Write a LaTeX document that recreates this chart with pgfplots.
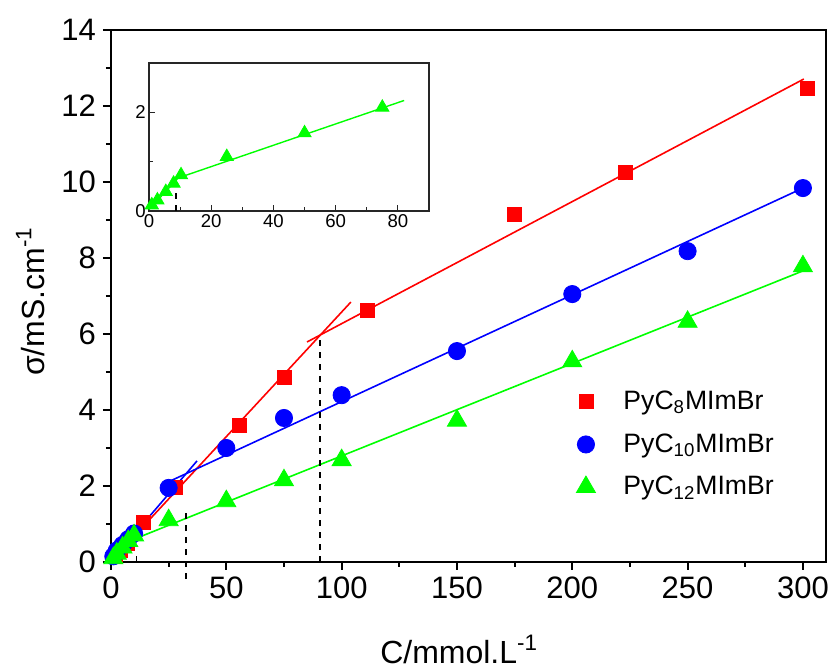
\documentclass[border=0pt]{standalone}
\usepackage{fontspec}
\setmainfont{Liberation Sans}
\usepackage{pgfplots}
\pgfplotsset{compat=1.18}
\definecolor{pgreen}{rgb}{0,1,0}
\begin{document}
\begin{tikzpicture}[x=1pt,y=1pt]
\path[use as bounding box] (0,0) rectangle (416,334);
\begin{axis}[
 name=main, at={(55.5pt,53pt)}, anchor=south west,
 scale only axis, width=357.5pt, height=266pt,
 xmin=0, xmax=310, ymin=0, ymax=14,
 xtick={0,50,...,300}, ytick={0,2,...,14},
 minor x tick num=1, minor y tick num=1,
 tick align=outside, xtick pos=bottom, ytick pos=left,
 major tick length=4pt, minor tick length=2.5pt,
 axis line style={line width=1pt},
 every tick/.append style={line width=1pt, black},
 ticklabel style={font=\fontsize{15.5}{18}\selectfont},
 /pgf/number format/assume math mode=true,
 xlabel={C/mmol.L\textsuperscript{-1}},
 ylabel={σ/mS.cm\textsuperscript{-1}},
 label style={font=\fontsize{16}{19}\selectfont},
 xlabel style={at={(axis description cs:0.487,-0.19)}, anchor=base},
 ylabel style={at={(axis description cs:-0.113,0.49)}, anchor=center},
 clip=false,
 legend style={draw=none, fill=none, at={(0.642,0.337)}, anchor=north west,
   font=\fontsize{13.3}{16}\selectfont, row sep=6.5pt},
 legend cell align=left,
]
% data
\addplot[only marks, mark=square*, color=red, mark size=3.5pt] coordinates {
 (2,0.15)(4,0.3)(7,0.5)(14,1.03)(28,1.95)(55.5,3.6)(75,4.87)(111,6.62)(175,9.15)(223,10.25)(302,12.47)};
\addlegendentry{\hspace{12pt}PyC\textsubscript{8}MImBr}
\addplot[only marks, mark=*, color=blue, mark size=4.3pt] coordinates {
 (1,0.15)(2.5,0.3)(5,0.45)(7.5,0.6)(10,0.75)(25,1.95)(50,3.0)(75,3.79)(100,4.39)(150,5.55)(200,7.05)(250,8.18)(300,9.84)};
\addlegendentry{\hspace{12pt}PyC\textsubscript{10}MImBr}
\addplot[only marks, mark=triangle*, color=pgreen, mark size=5.5pt] coordinates {
 (1,0.1)(2.5,0.22)(5,0.38)(7.5,0.55)(10,0.7)(25,1.1)(50,1.6)(75,2.15)(100,2.68)(150,3.72)(200,5.28)(250,6.32)(300,7.78)};
\addlegendentry{\hspace{12pt}PyC\textsubscript{12}MImBr}
% fit lines
\addplot[red, line width=0.8pt, forget plot] coordinates {(0,0.02)(104,6.84)};
\addplot[red, line width=0.8pt, forget plot] coordinates {(85,5.79)(300.4,12.71)};
\addplot[blue, line width=0.8pt, forget plot] coordinates {(0,0.02)(37.3,2.66)};
\addplot[blue, line width=0.8pt, forget plot] coordinates {(26,2.14)(300,9.84)};
\addplot[pgreen, line width=0.8pt, forget plot] coordinates {(0,0.03)(11,0.78)};
\addplot[pgreen, line width=0.8pt, forget plot] coordinates {(10,0.6)(300,7.66)};
% dashed markers
\addplot[black, dashed, line width=0.7pt, forget plot] coordinates {(32.5,-0.45)(32.5,1.39)};
\addplot[black, dashed, line width=0.7pt, forget plot] coordinates {(90.6,0)(90.6,5.92)};
\addplot[black, dashed, line width=0.7pt, forget plot] coordinates {(11,0)(11,0.25)};
\end{axis}
\begin{axis}[
 at={(74.5pt,228.5pt)}, anchor=south west,
 scale only axis, width=140pt, height=74pt,
 xmin=0, xmax=90, ymin=0, ymax=3,
 xtick={0,20,...,80}, ytick={0,2}, minor x tick num=1, minor ytick={1},
 tick align=inside, xtick pos=bottom, ytick pos=left,
 major tick length=3pt, minor tick length=2pt,
 axis line style={line width=0.6pt, black!85},
 every tick/.append style={line width=0.6pt, black!85},
 ticklabel style={font=\fontsize{9.3}{11}\selectfont, inner sep=1.5pt},
 /pgf/number format/assume math mode=true,
 clip=false,
]
\addplot[only marks, mark=triangle*, color=pgreen, mark size=3.8pt] coordinates {
 (0.9,0.12)(2.7,0.22)(5.4,0.39)(7.9,0.56)(10.3,0.73)(25,1.1)(50,1.58)(75,2.1)};
\addplot[pgreen, line width=0.7pt] coordinates {(0,0.03)(11,0.78)};
\addplot[pgreen, line width=0.7pt] coordinates {(8,0.64)(82,2.24)};
\addplot[black, dashed, line width=0.6pt] coordinates {(8.7,0)(8.7,0.63)};
\end{axis}
\end{tikzpicture}
\end{document}
